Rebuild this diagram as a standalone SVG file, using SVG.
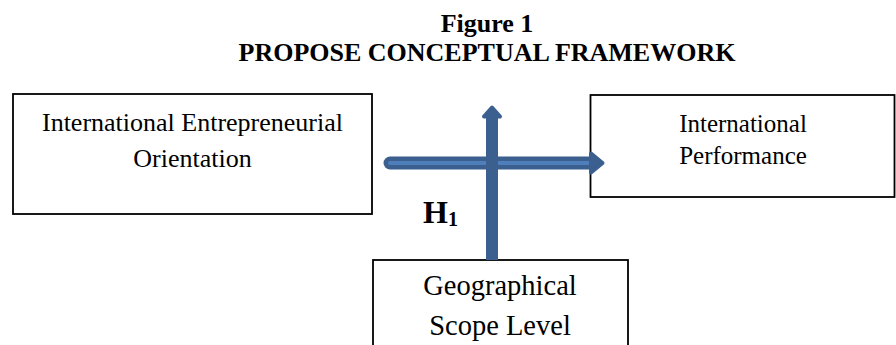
<svg xmlns="http://www.w3.org/2000/svg" width="896" height="345" viewBox="0 0 896 345">
<style>
  .box { fill: #ffffff; stroke: #000000; stroke-width: 1.8; }
  .txt { font-family: "Liberation Serif", "Times New Roman", serif; fill: #000000; text-anchor: middle; }
  .title { font-family: "Liberation Serif", "Times New Roman", serif; font-weight: bold; font-size: 26px; text-anchor: middle; fill: #000000; }
  .shaft { stroke: #3b5f8e; fill: none; }
  .head { fill: #3b5f8e; stroke: #3b5f8e; stroke-width: 4; stroke-linejoin: round; }
</style>
<rect width="896" height="345" fill="#ffffff"/>
<g id="title">
  <text class="title" x="487" y="32">Figure 1</text>
  <text class="title" x="487" y="61">PROPOSE CONCEPTUAL FRAMEWORK</text>
</g>
<g id="node-ieo">
  <rect class="box" x="13" y="94" width="359" height="120"/>
  <text class="txt" x="192.5" y="131" font-size="26">International Entrepreneurial</text>
  <text class="txt" x="192.5" y="167" font-size="26">Orientation</text>
</g>
<g id="node-ip">
  <rect class="box" x="590.5" y="95" width="304" height="102"/>
  <text class="txt" x="743" y="132" font-size="25">International</text>
  <text class="txt" x="743" y="164" font-size="25">Performance</text>
</g>
<g id="node-gsl">
  <rect class="box" x="373" y="260" width="255" height="100"/>
  <text class="txt" x="500" y="295" font-size="28.5">Geographical</text>
  <text class="txt" x="500" y="335" font-size="28.5">Scope Level</text>
</g>
<g id="connectors">
  <line class="shaft" x1="390" y1="163" x2="594" y2="163" stroke-width="13" stroke-linecap="round"/>
  <line x1="390" y1="163" x2="596" y2="163" stroke="#4f7fba" stroke-width="4" stroke-linecap="round"/>
  <polygon class="head" points="591,153.5 602.5,163 591,172.5"/>
  <line class="shaft" x1="492" y1="260" x2="492" y2="114" stroke-width="12"/>
  <polygon class="head" points="484,116.5 492,107.5 500,116.5"/>
</g>
<g id="label-h1">
  <text x="423" y="223" font-family="Liberation Serif, Times New Roman, serif" font-weight="bold" font-size="32" fill="#000000">H<tspan font-size="20" dy="3">1</tspan></text>
</g>
</svg>
